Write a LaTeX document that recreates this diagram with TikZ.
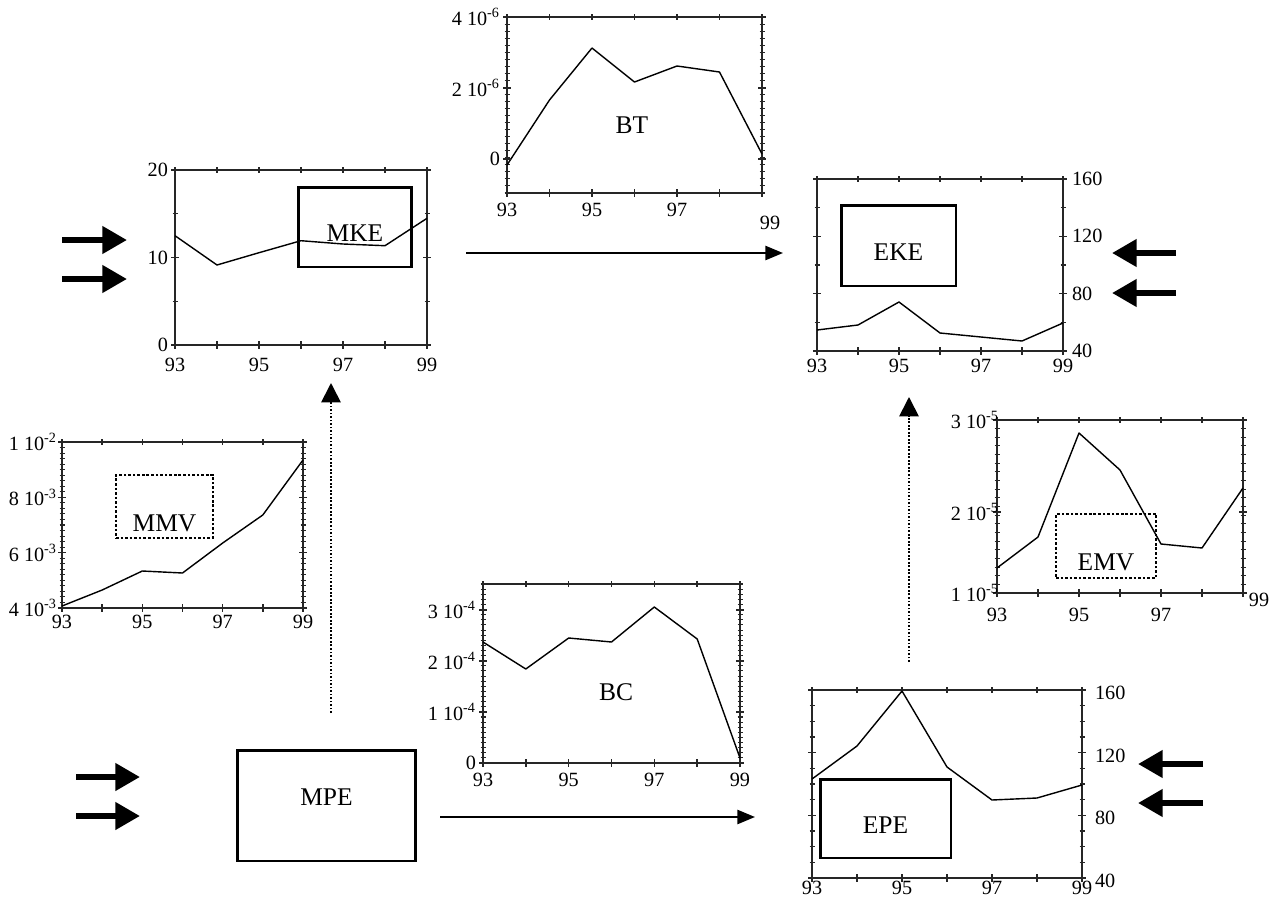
\documentclass[tikz,border=0pt]{standalone}
\usepackage{fontspec}
\setmainfont{Liberation Serif}
\usetikzlibrary{arrows.meta,calc,positioning}

\tikzset{
  frameline/.style={draw=black!85, line width=0.9pt},
  minortick/.style={draw=black!85, line width=0.6pt},
  curve/.style={draw=black, line width=0.8pt, line join=round},
  ticklab/.style={font=\fontsize{11.5}{12}\selectfont, inner sep=1pt},
  boxlab/.style={font=\fontsize{14.5}{16}\selectfont},
  solidbox/.style={draw, line width=1.7pt, inner sep=0pt},
  dotbox/.style={draw, line width=1.5pt, dash pattern=on 1.5pt off 1.1pt, inner sep=0pt},
  fatarrow/.style={line width=3.4pt, -{Triangle[length=14pt,width=15pt]}},
  flow/.style={line width=1.2pt, -{Triangle[length=10pt,width=8pt]}},
  trace/.style={line width=1pt, dash pattern=on 1pt off 1pt, -{Triangle[length=11pt,width=11pt]}},
}

% frame of one year chart: left, top, right, bottom, side ticks
\newcommand{\chartframe}[5]{%
  \draw[frameline] (#1,#2) rectangle (#3,#4);
  \foreach \k in {0,...,6} {
    \draw[frameline] ({#1+\k*(#3-#1)/6},#4-4) -- ++(0,8);
    \draw[frameline] ({#1+\k*(#3-#1)/6},#2-3) -- ++(0,6);
  }
  \foreach \k in {0,...,#5} {
    \draw[minortick] (#1-2.5,{#2+\k*(#4-#2)/#5}) -- ++(5,0);
    \draw[minortick] (#3-2.5,{#2+\k*(#4-#2)/#5}) -- ++(5,0);
  }
}
\newcommand{\majortick}[3]{%
  \draw[frameline] (#1-4,#3) -- ++(8,0) (#2-4,#3) -- ++(8,0);
}

\begin{document}
\begin{tikzpicture}[x=0.02cm,y=-0.02cm]
  \useasboundingbox (0,0) rectangle (1269,900);

  % mean kinetic energy
  \chartframe{175}{170}{427}{345}{4}
  \draw[curve] plot coordinates {(175,235.7) (217,265) (259,252.7) (301,240.7) (343,244) (385,245.7) (427,218.3)};
  \foreach \y/\lab in {170/20,257.5/10,345/0} {
    \majortick{175}{427}{\y}
    \node[ticklab,anchor=east] at (170,\y) {\lab};
  }
  \foreach \k/\lab in {0/93,2/95,4/97,6/99}
    \node[ticklab] at ({175+\k*42},365) {\lab};
  \node[solidbox,minimum width=2.28cm,minimum height=1.6cm,
    label={[boxlab,yshift=-0.12cm]center:MKE}] (mke) at (355,227) {};

  % barotropic conversion
  \chartframe{507}{17}{762}{193}{25}
  \draw[curve] plot coordinates {(507,165) (549.5,100) (592,48) (634.5,82) (677,66) (719.5,72) (762,154)};
  \foreach \y/\lab in {17/4 10\textsuperscript{-6},88/2 10\textsuperscript{-6},159/0} {
    \majortick{507}{762}{\y}
    \node[ticklab,anchor=east] at (502,\y) {\lab};
  }
  \foreach \k/\lab in {0/93,2/95,4/97}
    \node[ticklab] at ({507+\k*42.5},210) {\lab};
  \node[ticklab] at (770,223) {99};
  \node[boxlab] (bt) at (632,125) {BT};

  % eddy kinetic energy
  \chartframe{817}{179}{1063}{351}{6}
  \draw[curve] plot coordinates {(817,330) (858,325) (899,302) (940,333) (981,337) (1022,341) (1063,323)};
  \foreach \y/\lab in {179/160,236.3/120,293.7/80,351/40} {
    \majortick{817}{1063}{\y}
    \node[ticklab,anchor=west] at (1070,\y) {\lab};
  }
  \foreach \k/\lab in {0/93,2/95,4/97,6/99}
    \node[ticklab] at ({817+\k*41},366) {\lab};
  \node[solidbox,minimum width=2.3cm,minimum height=1.62cm,
    label={[boxlab,yshift=-0.14cm]center:EKE}] (eke) at (898.5,245.5) {};

  % mean variance
  \chartframe{62}{442}{303}{608}{30}
  \draw[curve] plot coordinates {(62,606) (102.2,590) (142.3,571) (182.5,573) (222.7,543) (262.8,515) (303,460)};
  \foreach \y/\lab in {442/1 10\textsuperscript{-2},497.3/8 10\textsuperscript{-3},552.7/6 10\textsuperscript{-3},608/4 10\textsuperscript{-3}} {
    \majortick{62}{303}{\y}
    \node[ticklab,anchor=east] at (59,\y) {\lab};
  }
  \foreach \k/\lab in {0/93,2/95,4/97,6/99}
    \node[ticklab] at ({62+\k*40.17},622) {\lab};
  \node[dotbox,minimum width=1.94cm,minimum height=1.26cm,
    label={[boxlab,yshift=-0.33cm]center:MMV}] (mmv) at (164.5,506.5) {};

  % eddy variance
  \chartframe{997}{420}{1243}{593}{20}
  \draw[curve] plot coordinates {(997,568) (1038,537) (1079,433) (1120,470) (1161,544) (1202,548) (1243,488)};
  \foreach \y/\lab in {420/3 10\textsuperscript{-5},512/2 10\textsuperscript{-5},593/1 10\textsuperscript{-5}} {
    \majortick{997}{1243}{\y}
    \node[ticklab,anchor=east] at (1001,\y) {\lab};
  }
  \foreach \k/\lab in {0/93,2/95,4/97}
    \node[ticklab] at ({997+\k*41},615) {\lab};
  \node[ticklab] at (1259,600) {99};
  \node[dotbox,minimum width=2cm,minimum height=1.28cm,
    label={[boxlab,yshift=-0.32cm]center:EMV}] (emv) at (1106,546) {};

  % baroclinic conversion
  \chartframe{483}{584}{740}{763}{35}
  \draw[curve] plot coordinates {(483,642) (525.8,669) (568.7,638) (611.5,642) (654.3,607) (697.2,639) (740,758)};
  \foreach \y/\lab in {610/3 10\textsuperscript{-4},661/2 10\textsuperscript{-4},712/1 10\textsuperscript{-4},763/0} {
    \majortick{483}{740}{\y}
    \node[ticklab,anchor=east] at (478,\y) {\lab};
  }
  \foreach \k/\lab in {0/93,2/95,4/97,6/99}
    \node[ticklab] at ({483+\k*42.83},780) {\lab};
  \node[boxlab] (bc) at (616,692) {BC};

  % eddy potential energy
  \chartframe{812}{690}{1082}{878}{12}
  \draw[curve] plot coordinates {(812,779) (857,746) (902,691) (947,767) (992,800) (1037,798) (1082,785)};
  \foreach \y/\lab in {690/160,752.7/120,815.3/80,878/40} {
    \majortick{812}{1082}{\y}
    \node[ticklab,anchor=west] at (1093,\y+3) {\lab};
  }
  \foreach \k/\lab in {0/93,2/95,4/97,6/99}
    \node[ticklab] at ({812+\k*45},888) {\lab};
  \node[solidbox,minimum width=2.62cm,minimum height=1.58cm,
    label={[boxlab,yshift=-0.13cm]center:EPE}] (epe) at (885.5,818.5) {};

  % mean potential energy
  \node[solidbox,minimum width=3.58cm,minimum height=2.22cm,
    label={[boxlab,yshift=0.17cm]center:MPE}] (mpe) at (326.5,805.5) {};

  % conversions
  \coordinate (mke-out) at (466,253);
  \coordinate (eke-in) at (783,253);
  \coordinate (mpe-out) at (440,817);
  \coordinate (epe-in) at (755,817);
  \coordinate (mpe-up) at (331,713);
  \coordinate (mke-down) at (331,383);
  \coordinate (epe-up) at (909,662);
  \coordinate (eke-down) at (909,397);
  \draw[flow] (mke-out) -- (eke-in);
  \draw[flow] (mpe-out) -- (epe-in);
  \draw[trace] (mpe-up) -- (mke-down);
  \draw[trace] (epe-up) -- (eke-down);

  % forcing
  \foreach \x/\y/\len in {62/240/65,62/279/65,76/777/64,76/816/64,1176/253/-64,1176/293/-64,1203/764/-65,1203/803/-65} {
    \coordinate (force) at (\x,\y);
    \draw[fatarrow] (force) -- ++(\len,0);
  }
\end{tikzpicture}
\end{document}
